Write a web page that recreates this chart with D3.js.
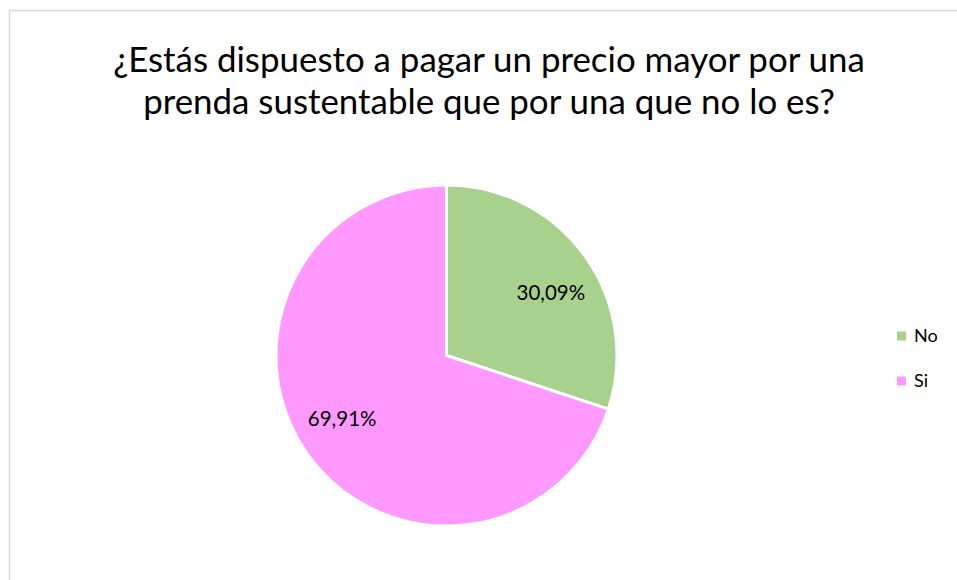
<!DOCTYPE html>
<html><head><meta charset="utf-8">
<script src="https://cdn.jsdelivr.net/npm/d3@7"></script>
<style>html,body{margin:0;padding:0;background:#fff;}svg{display:block;}</style>
</head><body>
<script>
const categories = ["No", "Si"];
const values = [30.09, 69.91];
const labels = ["30,09%", "69,91%"];
const colors = ["#A9D18E", "#FF99FF"];
const titleLines = ["¿Estás dispuesto a pagar un precio mayor por una", "prenda sustentable que por una que no lo es?"];

const W = 957, H = 580;
const FONT = "Lato, 'Open Sans', sans-serif";
const svg = d3.select("body").append("svg").attr("width", W).attr("height", H);

// chart frame
svg.append("rect").attr("x", 9.5).attr("y", 10.5).attr("width", 960).attr("height", 600)
  .attr("fill", "#fff").attr("stroke", "#D9D9D9").attr("stroke-width", 1.5);

// title
const titleTargets = [752, 692];
const titleY = [72, 114];
titleLines.forEach((t, i) => {
  const tx = svg.append("text").attr("x", 489).attr("y", titleY[i]).attr("text-anchor", "middle")
    .attr("font-family", FONT).attr("font-size", 29).attr("fill", "#000").text(t);
  const len = tx.node().getComputedTextLength();
  tx.attr("font-size", 29 * titleTargets[i] / len);
});

// pie
const cx = 446.5, cy = 355.5, r = 170.5;
const pie = d3.pie().sort(null).value(d => d)(values);
const arc = d3.arc().innerRadius(0).outerRadius(r);
const g = svg.append("g").attr("transform", `translate(${cx},${cy})`);
g.selectAll("path").data(pie).join("path")
  .attr("d", arc).attr("fill", (d, i) => colors[i])
  .attr("stroke", "#fff").attr("stroke-width", 3).attr("stroke-linejoin", "round");
const lr = r * 0.715, angOff = 0.082;
g.selectAll("text.lbl").data(pie).join("text").attr("class", "lbl")
  .attr("transform", d => {
    const a = (d.startAngle + d.endAngle) / 2 + angOff;
    return `translate(${lr * Math.sin(a)},${-lr * Math.cos(a)})`;
  })
  .attr("text-anchor", "middle").attr("dy", "0.35em")
  .attr("font-family", FONT).attr("font-size", 20.5).attr("fill", "#000")
  .text((d, i) => labels[i]);

// legend
const legY = d3.scalePoint().domain(categories).range([336, 381]);
const leg = svg.append("g");
categories.forEach((c, i) => {
  leg.append("rect").attr("x", 897).attr("y", legY(c) - 4.5).attr("width", 9).attr("height", 9).attr("fill", colors[i]);
  leg.append("text").attr("x", 914).attr("y", legY(c)).attr("dy", "0.35em")
    .attr("font-family", FONT).attr("font-size", 18).attr("fill", "#000").text(c);
});
</script>
</body></html>
